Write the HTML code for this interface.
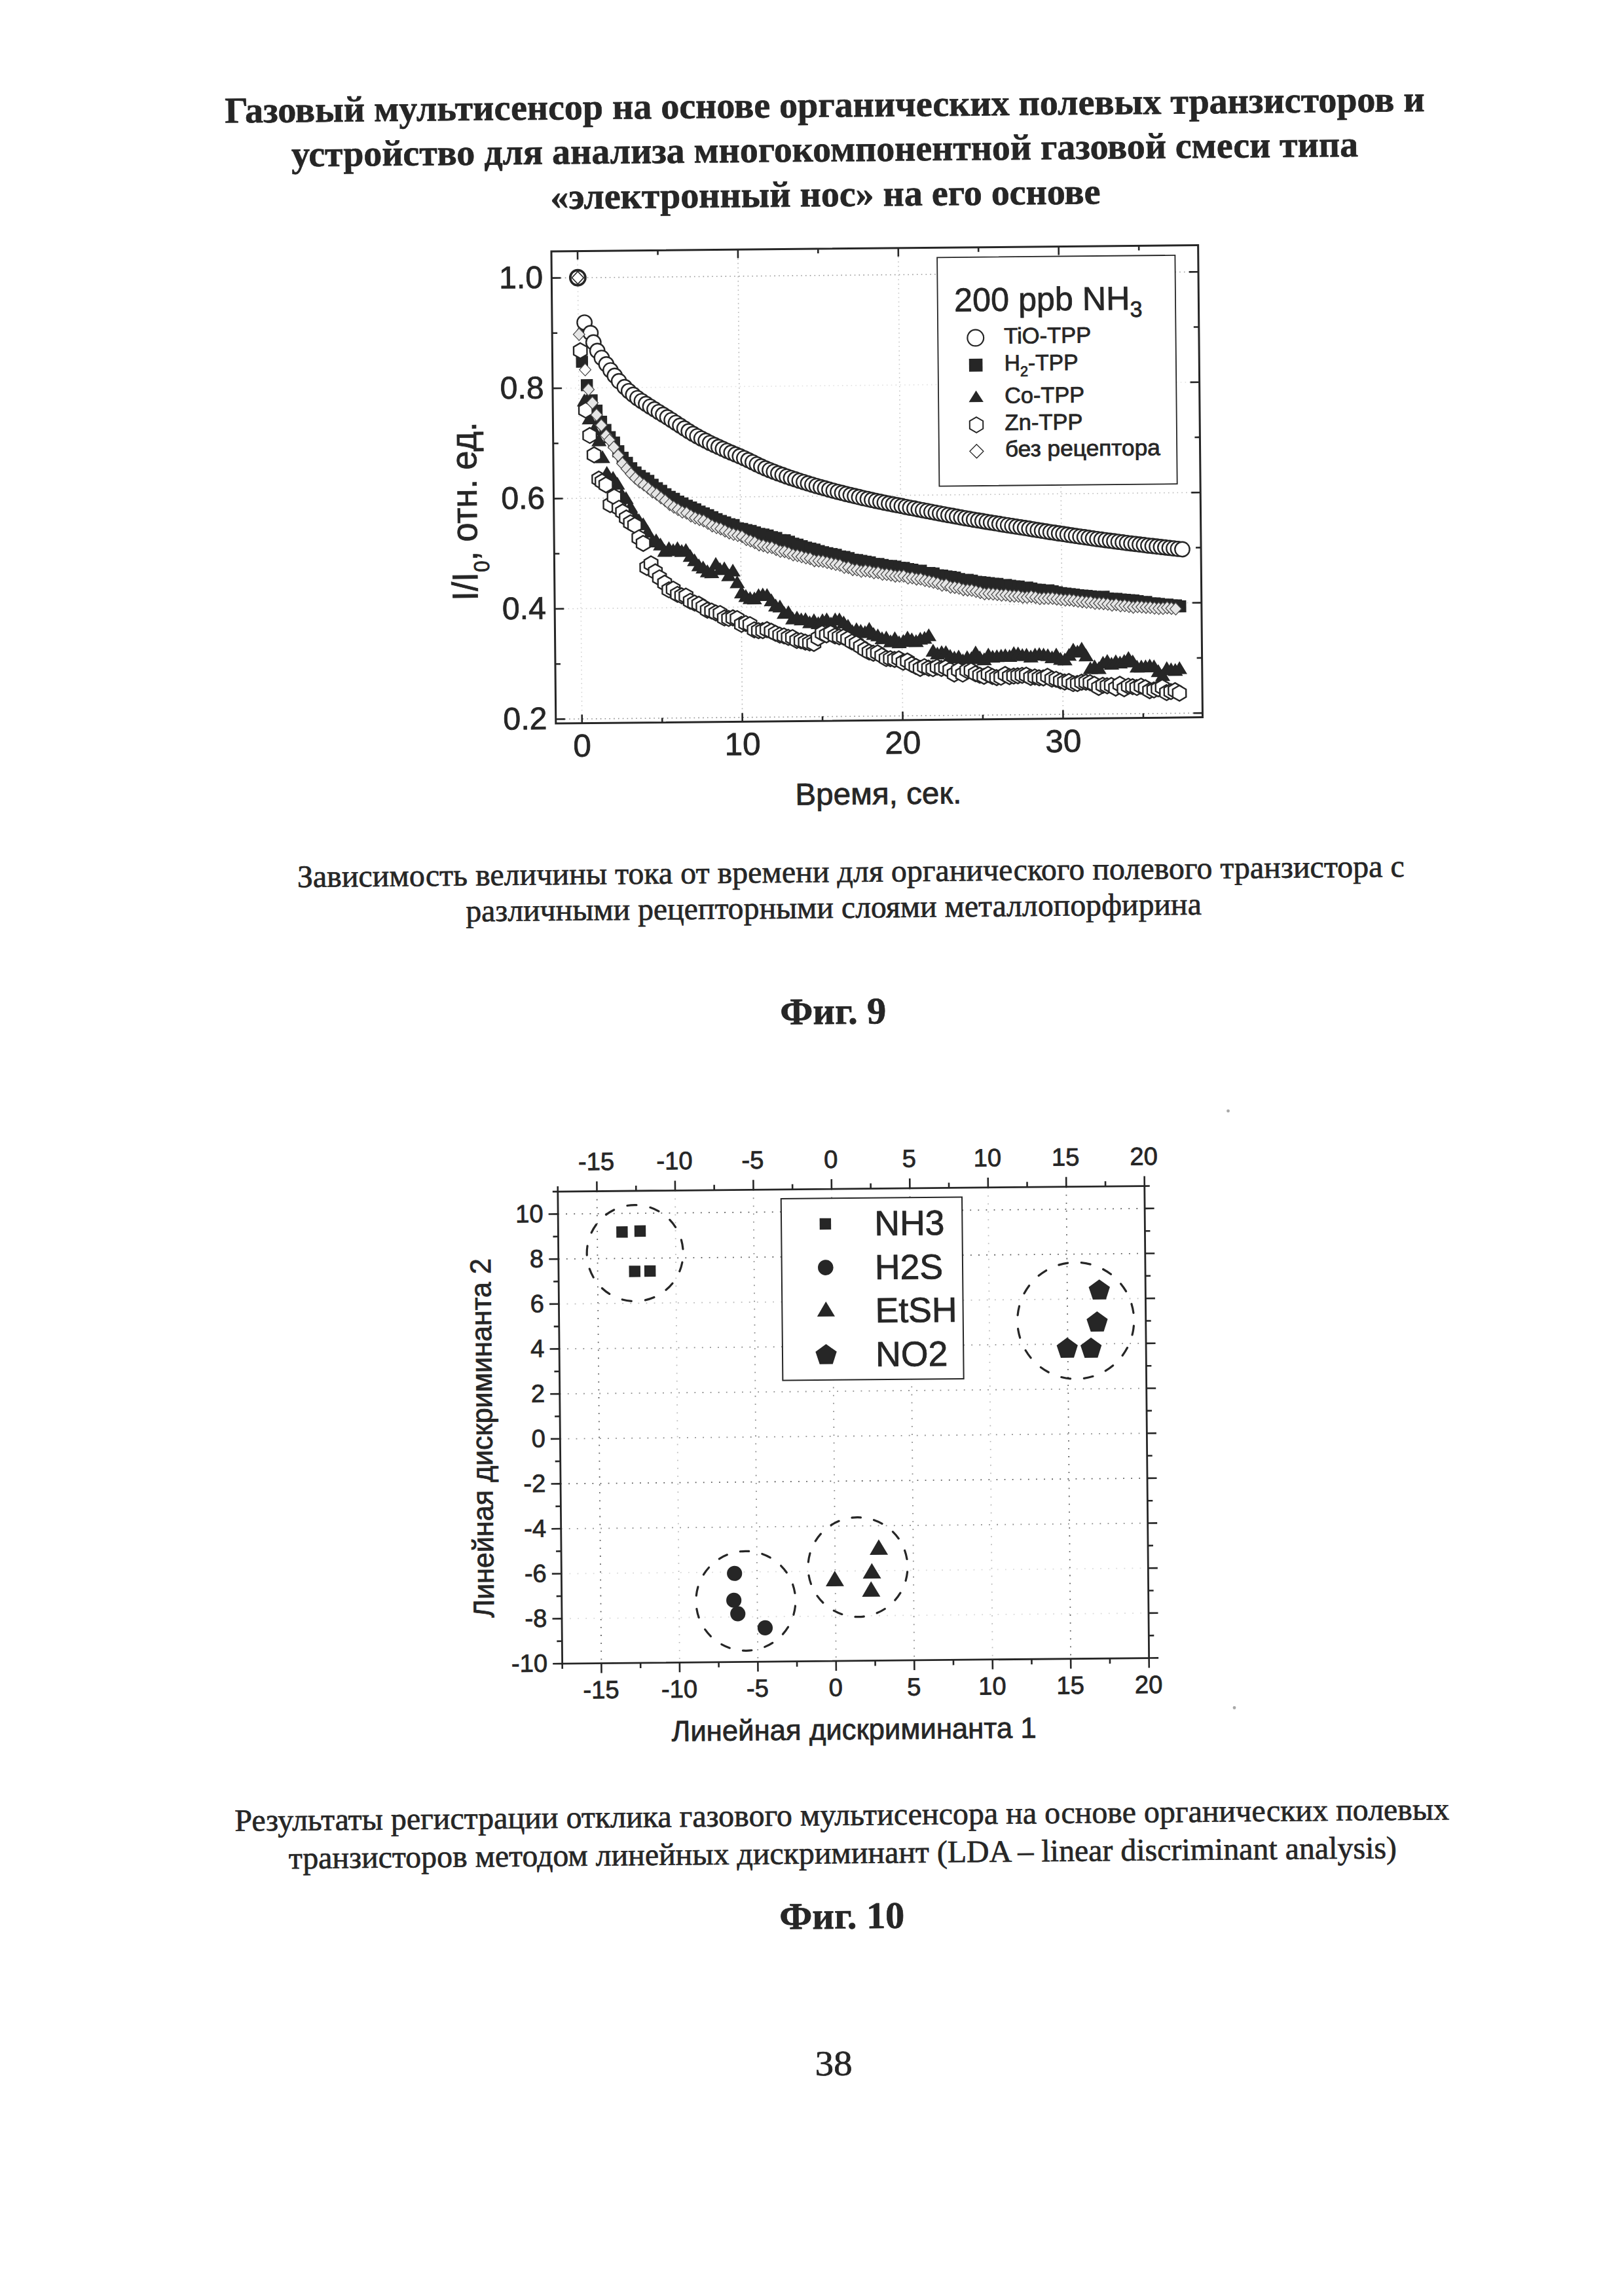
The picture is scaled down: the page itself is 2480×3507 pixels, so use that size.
<!DOCTYPE html>
<html lang="ru">
<head>
<meta charset="utf-8">
<title>Фиг. 9, Фиг. 10</title>
<style>
html,body{margin:0;padding:0;background:#fff;}
body{width:2480px;height:3507px;overflow:hidden;}
svg{display:block;position:absolute;left:0;top:0;}
.s{font-family:"Liberation Sans",sans-serif;fill:#262626;stroke:#262626;stroke-width:0.8px;}
.tb{font-family:"Liberation Serif",serif;font-weight:bold;fill:#262626;stroke:#262626;stroke-width:0.7px;}
.tr{font-family:"Liberation Serif",serif;fill:#262626;stroke:#262626;stroke-width:0.7px;}
.g1{stroke-width:1.6;stroke-dasharray:1.6 5.2;fill:none;}
.g2{stroke-width:1.8;stroke-dasharray:1.8 10.3;fill:none;}
</style>
</head>
<body>
<svg width="2480" height="3507" viewBox="0 0 2480 3507">
<g transform="rotate(-0.5443 1240.0 1753.5)">
<g id="text">
<text x="1274.6" y="179" text-anchor="middle" class="tb" font-size="55.8" textLength="1832.2" lengthAdjust="spacingAndGlyphs">Газовый мультисенсор на основе органических полевых транзисторов и</text>
<text x="1274" y="246.9" text-anchor="middle" class="tb" font-size="55.8" textLength="1628.9" lengthAdjust="spacingAndGlyphs">устройство для анализа многокомпонентной газовой смеси типа</text>
<text x="1274.2" y="315.5" text-anchor="middle" class="tb" font-size="55.8" textLength="840.2" lengthAdjust="spacingAndGlyphs">«электронный нос» на его основе</text>
<text x="1303.2" y="1347.6" text-anchor="middle" class="tr" font-size="47.85" textLength="1690.9" lengthAdjust="spacingAndGlyphs">Зависимость величины тока от времени для органического полевого транзистора с</text>
<text x="1276.5" y="1402.4" text-anchor="middle" class="tr" font-size="47.85" textLength="1123.5" lengthAdjust="spacingAndGlyphs">различными рецепторными слоями металлопорфирина</text>
<text x="1274.3" y="1564.3" text-anchor="middle" class="tb" font-size="57.5" textLength="162" lengthAdjust="spacingAndGlyphs">Фиг. 9</text>
<text x="1276" y="2788.4" text-anchor="middle" class="tr" font-size="47.85" textLength="1854.9" lengthAdjust="spacingAndGlyphs">Результаты регистрации отклика газового мультисенсора на основе органических полевых</text>
<text x="1276.6" y="2846.5" text-anchor="middle" class="tr" font-size="47.85" textLength="1692.2" lengthAdjust="spacingAndGlyphs">транзисторов методом линейных дискриминант (LDA – linear discriminant analysis)</text>
<text x="1274.7" y="2946.1" text-anchor="middle" class="tb" font-size="57.5" textLength="191" lengthAdjust="spacingAndGlyphs">Фиг. 10</text>
<text x="1259.8" y="3170.1" text-anchor="middle" class="tr" font-size="54" textLength="57" lengthAdjust="spacingAndGlyphs">38</text>
</g>
<g id="chart1">
<line x1="895" y1="380.2" x2="895" y2="1101.3" class="g1" stroke="#d4d4d4"/>
<line x1="1139.9" y1="380.2" x2="1139.9" y2="1101.3" class="g1" stroke="#b4b4b4"/>
<line x1="1384.8" y1="380.2" x2="1384.8" y2="1101.3" class="g1" stroke="#c6c6c6"/>
<line x1="1629.7" y1="380.2" x2="1629.7" y2="1101.3" class="g1" stroke="#bcbcbc"/>
<line x1="855" y1="1094.8" x2="1842.7" y2="1094.8" class="g1" stroke="#8e8e8e"/>
<line x1="855" y1="926.3" x2="1842.7" y2="926.3" class="g1" stroke="#cfcfcf"/>
<line x1="855" y1="757.9" x2="1842.7" y2="757.9" class="g1" stroke="#bdbdbd"/>
<line x1="855" y1="589.4" x2="1842.7" y2="589.4" class="g1" stroke="#e0e0e0"/>
<line x1="855" y1="420.9" x2="1842.7" y2="420.9" class="g1" stroke="#9a9a9a"/>
<g fill="#262626"><rect x="891" y="540" width="18.4" height="18.4"/><rect x="898.1" y="575.9" width="18.4" height="18.4"/><rect x="905.2" y="599.3" width="18.4" height="18.4"/><rect x="912.5" y="615.1" width="18.4" height="18.4"/><rect x="919.3" y="632" width="18.4" height="18.4"/><rect x="925.8" y="644.6" width="18.4" height="18.4"/><rect x="932.3" y="655.7" width="18.4" height="18.4"/><rect x="938.8" y="664" width="18.4" height="18.4"/><rect x="945.2" y="677.3" width="18.4" height="18.4"/><rect x="951.7" y="687.4" width="18.4" height="18.4"/><rect x="958.2" y="695.3" width="18.4" height="18.4"/><rect x="964.7" y="703.6" width="18.4" height="18.4"/><rect x="971.2" y="710" width="18.4" height="18.4"/><rect x="977.7" y="715.3" width="18.4" height="18.4"/><rect x="984.1" y="719.3" width="18.4" height="18.4"/><rect x="990.6" y="723.1" width="18.4" height="18.4"/><rect x="997.1" y="729" width="18.4" height="18.4"/><rect x="1003.6" y="734.5" width="18.4" height="18.4"/><rect x="1010.1" y="738.5" width="18.4" height="18.4"/><rect x="1016.6" y="743.7" width="18.4" height="18.4"/><rect x="1023" y="747.7" width="18.4" height="18.4"/><rect x="1029.5" y="750.8" width="18.4" height="18.4"/><rect x="1036" y="755.3" width="18.4" height="18.4"/><rect x="1042.5" y="758.1" width="18.4" height="18.4"/><rect x="1049" y="761.6" width="18.4" height="18.4"/><rect x="1055.4" y="764.3" width="18.4" height="18.4"/><rect x="1061.9" y="767.1" width="18.4" height="18.4"/><rect x="1068.4" y="770.8" width="18.4" height="18.4"/><rect x="1074.9" y="773.5" width="18.4" height="18.4"/><rect x="1081.4" y="776.3" width="18.4" height="18.4"/><rect x="1087.9" y="779.4" width="18.4" height="18.4"/><rect x="1094.3" y="782.5" width="18.4" height="18.4"/><rect x="1100.8" y="785.4" width="18.4" height="18.4"/><rect x="1107.3" y="787.6" width="18.4" height="18.4"/><rect x="1113.8" y="790.4" width="18.4" height="18.4"/><rect x="1120.3" y="791.8" width="18.4" height="18.4"/><rect x="1126.8" y="796.8" width="18.4" height="18.4"/><rect x="1133.2" y="797.8" width="18.4" height="18.4"/><rect x="1139.7" y="799.8" width="18.4" height="18.4"/><rect x="1146.2" y="801.1" width="18.4" height="18.4"/><rect x="1152.7" y="803.3" width="18.4" height="18.4"/><rect x="1159.2" y="805.6" width="18.4" height="18.4"/><rect x="1165.6" y="806.8" width="18.4" height="18.4"/><rect x="1172.1" y="808.3" width="18.4" height="18.4"/><rect x="1178.6" y="810.7" width="18.4" height="18.4"/><rect x="1185.1" y="812.1" width="18.4" height="18.4"/><rect x="1191.6" y="815.5" width="18.4" height="18.4"/><rect x="1198.1" y="815.7" width="18.4" height="18.4"/><rect x="1204.5" y="818" width="18.4" height="18.4"/><rect x="1211" y="821" width="18.4" height="18.4"/><rect x="1217.5" y="822.6" width="18.4" height="18.4"/><rect x="1224" y="825" width="18.4" height="18.4"/><rect x="1230.5" y="827.4" width="18.4" height="18.4"/><rect x="1237" y="828.9" width="18.4" height="18.4"/><rect x="1243.4" y="830.4" width="18.4" height="18.4"/><rect x="1249.9" y="832.8" width="18.4" height="18.4"/><rect x="1256.4" y="834.6" width="18.4" height="18.4"/><rect x="1262.9" y="836.1" width="18.4" height="18.4"/><rect x="1269.4" y="837.5" width="18.4" height="18.4"/><rect x="1275.9" y="838.7" width="18.4" height="18.4"/><rect x="1282.3" y="841.3" width="18.4" height="18.4"/><rect x="1288.8" y="842.2" width="18.4" height="18.4"/><rect x="1295.3" y="843.9" width="18.4" height="18.4"/><rect x="1301.8" y="846.4" width="18.4" height="18.4"/><rect x="1308.3" y="847.1" width="18.4" height="18.4"/><rect x="1314.7" y="848.4" width="18.4" height="18.4"/><rect x="1321.2" y="849.7" width="18.4" height="18.4"/><rect x="1327.7" y="850.8" width="18.4" height="18.4"/><rect x="1334.2" y="853.3" width="18.4" height="18.4"/><rect x="1340.7" y="853.4" width="18.4" height="18.4"/><rect x="1347.2" y="854.9" width="18.4" height="18.4"/><rect x="1353.6" y="856.4" width="18.4" height="18.4"/><rect x="1360.1" y="856.6" width="18.4" height="18.4"/><rect x="1366.6" y="857.6" width="18.4" height="18.4"/><rect x="1373.1" y="859.4" width="18.4" height="18.4"/><rect x="1379.6" y="859.7" width="18.4" height="18.4"/><rect x="1386.1" y="861.5" width="18.4" height="18.4"/><rect x="1392.5" y="862.5" width="18.4" height="18.4"/><rect x="1399" y="864.3" width="18.4" height="18.4"/><rect x="1405.5" y="864.2" width="18.4" height="18.4"/><rect x="1412" y="867.7" width="18.4" height="18.4"/><rect x="1418.5" y="867.8" width="18.4" height="18.4"/><rect x="1424.9" y="868.7" width="18.4" height="18.4"/><rect x="1431.4" y="871.5" width="18.4" height="18.4"/><rect x="1437.9" y="871.9" width="18.4" height="18.4"/><rect x="1444.4" y="873.3" width="18.4" height="18.4"/><rect x="1450.9" y="874.2" width="18.4" height="18.4"/><rect x="1457.4" y="875.3" width="18.4" height="18.4"/><rect x="1463.8" y="877.4" width="18.4" height="18.4"/><rect x="1470.3" y="879.1" width="18.4" height="18.4"/><rect x="1476.8" y="878.9" width="18.4" height="18.4"/><rect x="1483.3" y="880.1" width="18.4" height="18.4"/><rect x="1489.8" y="882" width="18.4" height="18.4"/><rect x="1496.3" y="882.6" width="18.4" height="18.4"/><rect x="1502.7" y="883.5" width="18.4" height="18.4"/><rect x="1509.2" y="884.2" width="18.4" height="18.4"/><rect x="1515.7" y="885.3" width="18.4" height="18.4"/><rect x="1522.2" y="885.5" width="18.4" height="18.4"/><rect x="1528.7" y="887.9" width="18.4" height="18.4"/><rect x="1535.2" y="887.3" width="18.4" height="18.4"/><rect x="1541.6" y="888.5" width="18.4" height="18.4"/><rect x="1548.1" y="889.6" width="18.4" height="18.4"/><rect x="1554.6" y="889.8" width="18.4" height="18.4"/><rect x="1561.1" y="892.5" width="18.4" height="18.4"/><rect x="1567.6" y="891.6" width="18.4" height="18.4"/><rect x="1574" y="893" width="18.4" height="18.4"/><rect x="1580.5" y="894.8" width="18.4" height="18.4"/><rect x="1587" y="895.1" width="18.4" height="18.4"/><rect x="1593.5" y="896.5" width="18.4" height="18.4"/><rect x="1600" y="896.1" width="18.4" height="18.4"/><rect x="1606.5" y="897.5" width="18.4" height="18.4"/><rect x="1612.9" y="899.1" width="18.4" height="18.4"/><rect x="1619.4" y="900.6" width="18.4" height="18.4"/><rect x="1625.9" y="901.4" width="18.4" height="18.4"/><rect x="1632.4" y="902.1" width="18.4" height="18.4"/><rect x="1638.9" y="903" width="18.4" height="18.4"/><rect x="1645.4" y="904" width="18.4" height="18.4"/><rect x="1651.8" y="904.6" width="18.4" height="18.4"/><rect x="1658.3" y="905.2" width="18.4" height="18.4"/><rect x="1664.8" y="906" width="18.4" height="18.4"/><rect x="1671.3" y="906.8" width="18.4" height="18.4"/><rect x="1677.8" y="907.7" width="18.4" height="18.4"/><rect x="1684.2" y="906.7" width="18.4" height="18.4"/><rect x="1690.7" y="909.4" width="18.4" height="18.4"/><rect x="1697.2" y="910" width="18.4" height="18.4"/><rect x="1703.7" y="910" width="18.4" height="18.4"/><rect x="1710.2" y="911.2" width="18.4" height="18.4"/><rect x="1716.7" y="911.6" width="18.4" height="18.4"/><rect x="1723.1" y="912.2" width="18.4" height="18.4"/><rect x="1729.6" y="912.7" width="18.4" height="18.4"/><rect x="1736.1" y="913.8" width="18.4" height="18.4"/><rect x="1742.6" y="915.5" width="18.4" height="18.4"/><rect x="1749.1" y="915.2" width="18.4" height="18.4"/><rect x="1755.6" y="917.5" width="18.4" height="18.4"/><rect x="1762" y="917.5" width="18.4" height="18.4"/><rect x="1768.5" y="918.5" width="18.4" height="18.4"/><rect x="1775" y="919.6" width="18.4" height="18.4"/><rect x="1781.5" y="919.6" width="18.4" height="18.4"/><rect x="1788" y="920.8" width="18.4" height="18.4"/><rect x="1794.5" y="921" width="18.4" height="18.4"/><rect x="1800.9" y="922.4" width="18.4" height="18.4"/></g>
<g fill="#262626"><path d="M900.7 487.7l11.6 19.6h-23.2z"/><path d="M903.3 597.7l11.6 19.6h-23.2z"/><path d="M910.5 625.4l11.6 19.6h-23.2z"/><path d="M917.4 642.4l11.6 19.6h-23.2z"/><path d="M924.9 658.9l11.6 19.6h-23.2z"/><path d="M930.2 684.8l11.6 19.6h-23.2z"/><path d="M936.6 708.9l11.6 19.6h-23.2z"/><path d="M946 716.5l11.6 19.6h-23.2z"/><path d="M952.5 725.5l11.6 19.6h-23.2z"/><path d="M959 741.5l11.6 19.6h-23.2z"/><path d="M965.5 747.7l11.6 19.6h-23.2z"/><path d="M972 760.9l11.6 19.6h-23.2z"/><path d="M978.5 774.3l11.6 19.6h-23.2z"/><path d="M984.9 781.5l11.6 19.6h-23.2z"/><path d="M991.4 787.8l11.6 19.6h-23.2z"/><path d="M997.9 799.2l11.6 19.6h-23.2z"/><path d="M1004.4 814.3l11.6 19.6h-23.2z"/><path d="M1010.9 812.6l11.6 19.6h-23.2z"/><path d="M1017.4 819l11.6 19.6h-23.2z"/><path d="M1023.8 828.8l11.6 19.6h-23.2z"/><path d="M1030.3 824.8l11.6 19.6h-23.2z"/><path d="M1036.8 827.9l11.6 19.6h-23.2z"/><path d="M1043.3 824.9l11.6 19.6h-23.2z"/><path d="M1049.8 829.1l11.6 19.6h-23.2z"/><path d="M1056.2 827.8l11.6 19.6h-23.2z"/><path d="M1062.7 836.8l11.6 19.6h-23.2z"/><path d="M1069.2 843.5l11.6 19.6h-23.2z"/><path d="M1075.7 851.3l11.6 19.6h-23.2z"/><path d="M1082.2 854.8l11.6 19.6h-23.2z"/><path d="M1088.7 860.6l11.6 19.6h-23.2z"/><path d="M1095.1 862l11.6 19.6h-23.2z"/><path d="M1101.6 849.4l11.6 19.6h-23.2z"/><path d="M1108.1 857.4l11.6 19.6h-23.2z"/><path d="M1114.6 856.2l11.6 19.6h-23.2z"/><path d="M1121.1 866.8l11.6 19.6h-23.2z"/><path d="M1127.6 859.8l11.6 19.6h-23.2z"/><path d="M1134 877.7l11.6 19.6h-23.2z"/><path d="M1140.5 893.3l11.6 19.6h-23.2z"/><path d="M1147 898.8l11.6 19.6h-23.2z"/><path d="M1153.5 902.1l11.6 19.6h-23.2z"/><path d="M1160 902.8l11.6 19.6h-23.2z"/><path d="M1166.5 897.8l11.6 19.6h-23.2z"/><path d="M1172.9 896.7l11.6 19.6h-23.2z"/><path d="M1179.4 897.6l11.6 19.6h-23.2z"/><path d="M1185.9 905.7l11.6 19.6h-23.2z"/><path d="M1192.4 913.8l11.6 19.6h-23.2z"/><path d="M1198.9 915.3l11.6 19.6h-23.2z"/><path d="M1205.3 925.1l11.6 19.6h-23.2z"/><path d="M1211.8 924.2l11.6 19.6h-23.2z"/><path d="M1218.3 933.7l11.6 19.6h-23.2z"/><path d="M1224.8 932.5l11.6 19.6h-23.2z"/><path d="M1231.3 935.5l11.6 19.6h-23.2z"/><path d="M1237.8 935.2l11.6 19.6h-23.2z"/><path d="M1244.2 939.9l11.6 19.6h-23.2z"/><path d="M1250.7 936.8l11.6 19.6h-23.2z"/><path d="M1257.2 941.5l11.6 19.6h-23.2z"/><path d="M1263.7 937l11.6 19.6h-23.2z"/><path d="M1270.2 935.7l11.6 19.6h-23.2z"/><path d="M1276.7 942l11.6 19.6h-23.2z"/><path d="M1283.1 935.9l11.6 19.6h-23.2z"/><path d="M1289.6 935.9l11.6 19.6h-23.2z"/><path d="M1296.1 940.7l11.6 19.6h-23.2z"/><path d="M1302.6 945.8l11.6 19.6h-23.2z"/><path d="M1309.1 954.2l11.6 19.6h-23.2z"/><path d="M1315.5 951.2l11.6 19.6h-23.2z"/><path d="M1322 953.8l11.6 19.6h-23.2z"/><path d="M1328.5 955.9l11.6 19.6h-23.2z"/><path d="M1335 950.9l11.6 19.6h-23.2z"/><path d="M1341.5 958.6l11.6 19.6h-23.2z"/><path d="M1348 960.9l11.6 19.6h-23.2z"/><path d="M1354.4 965.4l11.6 19.6h-23.2z"/><path d="M1360.9 964.4l11.6 19.6h-23.2z"/><path d="M1367.4 970.2l11.6 19.6h-23.2z"/><path d="M1373.9 965.6l11.6 19.6h-23.2z"/><path d="M1380.4 971.9l11.6 19.6h-23.2z"/><path d="M1386.9 969.8l11.6 19.6h-23.2z"/><path d="M1393.3 964.7l11.6 19.6h-23.2z"/><path d="M1399.8 967.4l11.6 19.6h-23.2z"/><path d="M1406.3 970.4l11.6 19.6h-23.2z"/><path d="M1412.8 966.6l11.6 19.6h-23.2z"/><path d="M1419.3 965.4l11.6 19.6h-23.2z"/><path d="M1425.8 961.4l11.6 19.6h-23.2z"/><path d="M1432.2 985l11.6 19.6h-23.2z"/><path d="M1438.7 989.5l11.6 19.6h-23.2z"/><path d="M1445.2 987.3l11.6 19.6h-23.2z"/><path d="M1451.7 987.6l11.6 19.6h-23.2z"/><path d="M1458.2 993.2l11.6 19.6h-23.2z"/><path d="M1464.6 995.8l11.6 19.6h-23.2z"/><path d="M1471.1 994.5l11.6 19.6h-23.2z"/><path d="M1477.6 1000.3l11.6 19.6h-23.2z"/><path d="M1484.1 995.5l11.6 19.6h-23.2z"/><path d="M1490.6 997.2l11.6 19.6h-23.2z"/><path d="M1497.1 988.3l11.6 19.6h-23.2z"/><path d="M1503.5 996l11.6 19.6h-23.2z"/><path d="M1510 999l11.6 19.6h-23.2z"/><path d="M1516.5 991.9l11.6 19.6h-23.2z"/><path d="M1523 995.1l11.6 19.6h-23.2z"/><path d="M1529.5 994.5l11.6 19.6h-23.2z"/><path d="M1536 993.7l11.6 19.6h-23.2z"/><path d="M1542.4 993.1l11.6 19.6h-23.2z"/><path d="M1548.9 994.3l11.6 19.6h-23.2z"/><path d="M1555.4 989.9l11.6 19.6h-23.2z"/><path d="M1561.9 990.6l11.6 19.6h-23.2z"/><path d="M1568.4 993.1l11.6 19.6h-23.2z"/><path d="M1574.8 992.7l11.6 19.6h-23.2z"/><path d="M1581.3 995.5l11.6 19.6h-23.2z"/><path d="M1587.8 992.5l11.6 19.6h-23.2z"/><path d="M1594.3 991.8l11.6 19.6h-23.2z"/><path d="M1600.8 992.6l11.6 19.6h-23.2z"/><path d="M1607.3 993.6l11.6 19.6h-23.2z"/><path d="M1613.7 996.9l11.6 19.6h-23.2z"/><path d="M1620.2 992.9l11.6 19.6h-23.2z"/><path d="M1626.7 999.4l11.6 19.6h-23.2z"/><path d="M1633.2 1000.4l11.6 19.6h-23.2z"/><path d="M1639.7 993.4l11.6 19.6h-23.2z"/><path d="M1646.2 985.6l11.6 19.6h-23.2z"/><path d="M1652.6 988.7l11.6 19.6h-23.2z"/><path d="M1659.1 984.1l11.6 19.6h-23.2z"/><path d="M1665.6 994.6l11.6 19.6h-23.2z"/><path d="M1672.1 1014.2l11.6 19.6h-23.2z"/><path d="M1678.6 1011.5l11.6 19.6h-23.2z"/><path d="M1685.1 1014.2l11.6 19.6h-23.2z"/><path d="M1691.5 1006l11.6 19.6h-23.2z"/><path d="M1698 1003.2l11.6 19.6h-23.2z"/><path d="M1704.5 1007.7l11.6 19.6h-23.2z"/><path d="M1711 1004l11.6 19.6h-23.2z"/><path d="M1717.5 1005.9l11.6 19.6h-23.2z"/><path d="M1723.9 1003.5l11.6 19.6h-23.2z"/><path d="M1730.4 999l11.6 19.6h-23.2z"/><path d="M1736.9 1004.5l11.6 19.6h-23.2z"/><path d="M1743.4 1012.4l11.6 19.6h-23.2z"/><path d="M1749.9 1012.3l11.6 19.6h-23.2z"/><path d="M1756.4 1012.2l11.6 19.6h-23.2z"/><path d="M1762.8 1010.9l11.6 19.6h-23.2z"/><path d="M1769.3 1012.2l11.6 19.6h-23.2z"/><path d="M1775.8 1019.6l11.6 19.6h-23.2z"/><path d="M1782.3 1025.9l11.6 19.6h-23.2z"/><path d="M1788.8 1015.3l11.6 19.6h-23.2z"/><path d="M1795.3 1017.1l11.6 19.6h-23.2z"/><path d="M1801.7 1018l11.6 19.6h-23.2z"/><path d="M1808.2 1015.4l11.6 19.6h-23.2z"/></g>
<g fill="#fff" stroke="#262626" stroke-width="2.4"><circle cx="904.6" cy="489.3" r="11.2"/><circle cx="913.7" cy="505.5" r="11.2"/><circle cx="918" cy="519.9" r="11.2"/><circle cx="923.8" cy="532.9" r="11.2"/><circle cx="930.4" cy="543.6" r="11.2"/><circle cx="937.3" cy="553.5" r="11.2"/><circle cx="943.7" cy="562.7" r="11.2"/><circle cx="950" cy="571.1" r="11.2"/><circle cx="956.4" cy="579.5" r="11.2"/><circle cx="964.9" cy="588.5" r="11.2"/><circle cx="971.3" cy="594.7" r="11.2"/><circle cx="977.8" cy="600.4" r="11.2"/><circle cx="984.3" cy="605.6" r="11.2"/><circle cx="990.8" cy="610.2" r="11.2"/><circle cx="997.3" cy="614.6" r="11.2"/><circle cx="1003.7" cy="618.8" r="11.2"/><circle cx="1010.2" cy="623" r="11.2"/><circle cx="1016.7" cy="627.2" r="11.2"/><circle cx="1023.2" cy="631.3" r="11.2"/><circle cx="1029.7" cy="635.4" r="11.2"/><circle cx="1036.2" cy="639.6" r="11.2"/><circle cx="1042.6" cy="643.9" r="11.2"/><circle cx="1049.1" cy="648.3" r="11.2"/><circle cx="1055.6" cy="652.6" r="11.2"/><circle cx="1062.1" cy="656.9" r="11.2"/><circle cx="1068.6" cy="661" r="11.2"/><circle cx="1075.1" cy="664.7" r="11.2"/><circle cx="1081.5" cy="668.3" r="11.2"/><circle cx="1088" cy="671.7" r="11.2"/><circle cx="1094.5" cy="675.1" r="11.2"/><circle cx="1101" cy="678.3" r="11.2"/><circle cx="1107.5" cy="681.4" r="11.2"/><circle cx="1114" cy="684.5" r="11.2"/><circle cx="1120.4" cy="687.4" r="11.2"/><circle cx="1126.9" cy="690.3" r="11.2"/><circle cx="1133.4" cy="693.1" r="11.2"/><circle cx="1139.9" cy="696" r="11.2"/><circle cx="1146.4" cy="698.9" r="11.2"/><circle cx="1152.8" cy="702.1" r="11.2"/><circle cx="1159.3" cy="705.3" r="11.2"/><circle cx="1165.8" cy="708.6" r="11.2"/><circle cx="1172.3" cy="711.8" r="11.2"/><circle cx="1178.8" cy="714.8" r="11.2"/><circle cx="1185.3" cy="717.5" r="11.2"/><circle cx="1191.7" cy="720.1" r="11.2"/><circle cx="1198.2" cy="722.7" r="11.2"/><circle cx="1204.7" cy="725.1" r="11.2"/><circle cx="1211.2" cy="727.5" r="11.2"/><circle cx="1217.7" cy="729.8" r="11.2"/><circle cx="1224.2" cy="732" r="11.2"/><circle cx="1230.6" cy="734.2" r="11.2"/><circle cx="1237.1" cy="736.3" r="11.2"/><circle cx="1243.6" cy="738.4" r="11.2"/><circle cx="1250.1" cy="740.4" r="11.2"/><circle cx="1256.6" cy="742.4" r="11.2"/><circle cx="1263" cy="744.3" r="11.2"/><circle cx="1269.5" cy="746.2" r="11.2"/><circle cx="1276" cy="748.1" r="11.2"/><circle cx="1282.5" cy="749.9" r="11.2"/><circle cx="1289" cy="751.7" r="11.2"/><circle cx="1295.5" cy="753.4" r="11.2"/><circle cx="1301.9" cy="755.1" r="11.2"/><circle cx="1308.4" cy="756.8" r="11.2"/><circle cx="1314.9" cy="758.4" r="11.2"/><circle cx="1321.4" cy="760" r="11.2"/><circle cx="1327.9" cy="761.6" r="11.2"/><circle cx="1334.4" cy="763.1" r="11.2"/><circle cx="1340.8" cy="764.6" r="11.2"/><circle cx="1347.3" cy="766.1" r="11.2"/><circle cx="1353.8" cy="767.5" r="11.2"/><circle cx="1360.3" cy="768.9" r="11.2"/><circle cx="1366.8" cy="770.3" r="11.2"/><circle cx="1373.3" cy="771.7" r="11.2"/><circle cx="1379.7" cy="773" r="11.2"/><circle cx="1386.2" cy="774.3" r="11.2"/><circle cx="1392.7" cy="775.7" r="11.2"/><circle cx="1399.2" cy="777" r="11.2"/><circle cx="1405.7" cy="778.3" r="11.2"/><circle cx="1412.1" cy="779.7" r="11.2"/><circle cx="1418.6" cy="781" r="11.2"/><circle cx="1425.1" cy="782.3" r="11.2"/><circle cx="1431.6" cy="783.6" r="11.2"/><circle cx="1438.1" cy="784.9" r="11.2"/><circle cx="1444.6" cy="786.2" r="11.2"/><circle cx="1451" cy="787.5" r="11.2"/><circle cx="1457.5" cy="788.8" r="11.2"/><circle cx="1464" cy="790.1" r="11.2"/><circle cx="1470.5" cy="791.3" r="11.2"/><circle cx="1477" cy="792.6" r="11.2"/><circle cx="1483.5" cy="793.8" r="11.2"/><circle cx="1489.9" cy="795" r="11.2"/><circle cx="1496.4" cy="796.2" r="11.2"/><circle cx="1502.9" cy="797.4" r="11.2"/><circle cx="1509.4" cy="798.5" r="11.2"/><circle cx="1515.9" cy="799.7" r="11.2"/><circle cx="1522.3" cy="800.8" r="11.2"/><circle cx="1528.8" cy="801.9" r="11.2"/><circle cx="1535.3" cy="803" r="11.2"/><circle cx="1541.8" cy="804.1" r="11.2"/><circle cx="1548.3" cy="805.2" r="11.2"/><circle cx="1554.8" cy="806.3" r="11.2"/><circle cx="1561.2" cy="807.4" r="11.2"/><circle cx="1567.7" cy="808.5" r="11.2"/><circle cx="1574.2" cy="809.6" r="11.2"/><circle cx="1580.7" cy="810.7" r="11.2"/><circle cx="1587.2" cy="811.8" r="11.2"/><circle cx="1593.7" cy="813" r="11.2"/><circle cx="1600.1" cy="814.1" r="11.2"/><circle cx="1606.6" cy="815.2" r="11.2"/><circle cx="1613.1" cy="816.3" r="11.2"/><circle cx="1619.6" cy="817.3" r="11.2"/><circle cx="1626.1" cy="818.4" r="11.2"/><circle cx="1632.6" cy="819.4" r="11.2"/><circle cx="1639" cy="820.5" r="11.2"/><circle cx="1645.5" cy="821.5" r="11.2"/><circle cx="1652" cy="822.5" r="11.2"/><circle cx="1658.5" cy="823.5" r="11.2"/><circle cx="1665" cy="824.5" r="11.2"/><circle cx="1671.4" cy="825.5" r="11.2"/><circle cx="1677.9" cy="826.5" r="11.2"/><circle cx="1684.4" cy="827.5" r="11.2"/><circle cx="1690.9" cy="828.4" r="11.2"/><circle cx="1697.4" cy="829.4" r="11.2"/><circle cx="1703.9" cy="830.3" r="11.2"/><circle cx="1710.3" cy="831.2" r="11.2"/><circle cx="1716.8" cy="832.1" r="11.2"/><circle cx="1723.3" cy="833" r="11.2"/><circle cx="1729.8" cy="833.9" r="11.2"/><circle cx="1736.3" cy="834.8" r="11.2"/><circle cx="1742.8" cy="835.6" r="11.2"/><circle cx="1749.2" cy="836.5" r="11.2"/><circle cx="1755.7" cy="837.3" r="11.2"/><circle cx="1762.2" cy="838.2" r="11.2"/><circle cx="1768.7" cy="839" r="11.2"/><circle cx="1775.2" cy="839.8" r="11.2"/><circle cx="1781.6" cy="840.6" r="11.2"/><circle cx="1788.1" cy="841.4" r="11.2"/><circle cx="1794.6" cy="842.2" r="11.2"/><circle cx="1801.1" cy="842.9" r="11.2"/><circle cx="1807.6" cy="843.7" r="11.2"/><circle cx="1814.1" cy="844.4" r="11.2"/></g>
<g fill="#fff" stroke="#262626" stroke-width="2.4"><path d="M897.8 520.7l10.2 5.9v11.8l-10.2 5.9l-10.2 -5.9v-11.8z"/><path d="M905 611.4l10.2 5.9v11.8l-10.2 5.9l-10.2 -5.9v-11.8z"/><path d="M911 650.2l10.2 5.9v11.8l-10.2 5.9l-10.2 -5.9v-11.8z"/><path d="M917.3 679.8l10.2 5.9v11.8l-10.2 5.9l-10.2 -5.9v-11.8z"/><path d="M924.3 716.9l10.2 5.9v11.8l-10.2 5.9l-10.2 -5.9v-11.8z"/><path d="M929.1 720.9l10.2 5.9v11.8l-10.2 5.9l-10.2 -5.9v-11.8z"/><path d="M934.9 725.7l10.2 5.9v11.8l-10.2 5.9l-10.2 -5.9v-11.8z"/><path d="M941.1 756.1l10.2 5.9v11.8l-10.2 5.9l-10.2 -5.9v-11.8z"/><path d="M947.4 744.2l10.2 5.9v11.8l-10.2 5.9l-10.2 -5.9v-11.8z"/><path d="M954.6 761.8l10.2 5.9v11.8l-10.2 5.9l-10.2 -5.9v-11.8z"/><path d="M960 767.5l10.2 5.9v11.8l-10.2 5.9l-10.2 -5.9v-11.8z"/><path d="M965.6 776.7l10.2 5.9v11.8l-10.2 5.9l-10.2 -5.9v-11.8z"/><path d="M971.9 784.1l10.2 5.9v11.8l-10.2 5.9l-10.2 -5.9v-11.8z"/><path d="M978.3 787.9l10.2 5.9v11.8l-10.2 5.9l-10.2 -5.9v-11.8z"/><path d="M984.6 807.3l10.2 5.9v11.8l-10.2 5.9l-10.2 -5.9v-11.8z"/><path d="M991 815.8l10.2 5.9v11.8l-10.2 5.9l-10.2 -5.9v-11.8z"/><path d="M996.2 852.7l10.2 5.9v11.8l-10.2 5.9l-10.2 -5.9v-11.8z"/><path d="M1002.7 847.2l10.2 5.9v11.8l-10.2 5.9l-10.2 -5.9v-11.8z"/><path d="M1009.1 859.4l10.2 5.9v11.8l-10.2 5.9l-10.2 -5.9v-11.8z"/><path d="M1015.4 868.6l10.2 5.9v11.8l-10.2 5.9l-10.2 -5.9v-11.8z"/><path d="M1023.2 876.8l10.2 5.9v11.8l-10.2 5.9l-10.2 -5.9v-11.8z"/><path d="M1029.7 887.1l10.2 5.9v11.8l-10.2 5.9l-10.2 -5.9v-11.8z"/><path d="M1036.2 886.1l10.2 5.9v11.8l-10.2 5.9l-10.2 -5.9v-11.8z"/><path d="M1042.6 894.1l10.2 5.9v11.8l-10.2 5.9l-10.2 -5.9v-11.8z"/><path d="M1049.1 896.4l10.2 5.9v11.8l-10.2 5.9l-10.2 -5.9v-11.8z"/><path d="M1055.6 896.9l10.2 5.9v11.8l-10.2 5.9l-10.2 -5.9v-11.8z"/><path d="M1062.1 904.8l10.2 5.9v11.8l-10.2 5.9l-10.2 -5.9v-11.8z"/><path d="M1068.6 907.6l10.2 5.9v11.8l-10.2 5.9l-10.2 -5.9v-11.8z"/><path d="M1075.1 909.5l10.2 5.9v11.8l-10.2 5.9l-10.2 -5.9v-11.8z"/><path d="M1081.5 913.8l10.2 5.9v11.8l-10.2 5.9l-10.2 -5.9v-11.8z"/><path d="M1088 918.7l10.2 5.9v11.8l-10.2 5.9l-10.2 -5.9v-11.8z"/><path d="M1094.5 920.1l10.2 5.9v11.8l-10.2 5.9l-10.2 -5.9v-11.8z"/><path d="M1101 923.1l10.2 5.9v11.8l-10.2 5.9l-10.2 -5.9v-11.8z"/><path d="M1107.5 924l10.2 5.9v11.8l-10.2 5.9l-10.2 -5.9v-11.8z"/><path d="M1113.9 930.9l10.2 5.9v11.8l-10.2 5.9l-10.2 -5.9v-11.8z"/><path d="M1120.4 931.7l10.2 5.9v11.8l-10.2 5.9l-10.2 -5.9v-11.8z"/><path d="M1126.9 930.8l10.2 5.9v11.8l-10.2 5.9l-10.2 -5.9v-11.8z"/><path d="M1133.4 932l10.2 5.9v11.8l-10.2 5.9l-10.2 -5.9v-11.8z"/><path d="M1139.9 940.9l10.2 5.9v11.8l-10.2 5.9l-10.2 -5.9v-11.8z"/><path d="M1146.4 939.6l10.2 5.9v11.8l-10.2 5.9l-10.2 -5.9v-11.8z"/><path d="M1152.8 941.4l10.2 5.9v11.8l-10.2 5.9l-10.2 -5.9v-11.8z"/><path d="M1159.3 949.5l10.2 5.9v11.8l-10.2 5.9l-10.2 -5.9v-11.8z"/><path d="M1165.8 950.8l10.2 5.9v11.8l-10.2 5.9l-10.2 -5.9v-11.8z"/><path d="M1172.3 950.8l10.2 5.9v11.8l-10.2 5.9l-10.2 -5.9v-11.8z"/><path d="M1178.8 949.3l10.2 5.9v11.8l-10.2 5.9l-10.2 -5.9v-11.8z"/><path d="M1185.3 951.8l10.2 5.9v11.8l-10.2 5.9l-10.2 -5.9v-11.8z"/><path d="M1191.7 955.1l10.2 5.9v11.8l-10.2 5.9l-10.2 -5.9v-11.8z"/><path d="M1198.2 957.9l10.2 5.9v11.8l-10.2 5.9l-10.2 -5.9v-11.8z"/><path d="M1204.7 959.2l10.2 5.9v11.8l-10.2 5.9l-10.2 -5.9v-11.8z"/><path d="M1211.2 961.4l10.2 5.9v11.8l-10.2 5.9l-10.2 -5.9v-11.8z"/><path d="M1217.7 961.8l10.2 5.9v11.8l-10.2 5.9l-10.2 -5.9v-11.8z"/><path d="M1224.1 966.3l10.2 5.9v11.8l-10.2 5.9l-10.2 -5.9v-11.8z"/><path d="M1230.6 966.9l10.2 5.9v11.8l-10.2 5.9l-10.2 -5.9v-11.8z"/><path d="M1237.1 968.9l10.2 5.9v11.8l-10.2 5.9l-10.2 -5.9v-11.8z"/><path d="M1243.6 970.3l10.2 5.9v11.8l-10.2 5.9l-10.2 -5.9v-11.8z"/><path d="M1250.1 971.1l10.2 5.9v11.8l-10.2 5.9l-10.2 -5.9v-11.8z"/><path d="M1256.6 962.8l10.2 5.9v11.8l-10.2 5.9l-10.2 -5.9v-11.8z"/><path d="M1263 955.5l10.2 5.9v11.8l-10.2 5.9l-10.2 -5.9v-11.8z"/><path d="M1269.5 958.3l10.2 5.9v11.8l-10.2 5.9l-10.2 -5.9v-11.8z"/><path d="M1276 955.4l10.2 5.9v11.8l-10.2 5.9l-10.2 -5.9v-11.8z"/><path d="M1282.5 960l10.2 5.9v11.8l-10.2 5.9l-10.2 -5.9v-11.8z"/><path d="M1289 961.5l10.2 5.9v11.8l-10.2 5.9l-10.2 -5.9v-11.8z"/><path d="M1295.5 961.7l10.2 5.9v11.8l-10.2 5.9l-10.2 -5.9v-11.8z"/><path d="M1301.9 964.7l10.2 5.9v11.8l-10.2 5.9l-10.2 -5.9v-11.8z"/><path d="M1308.4 969.4l10.2 5.9v11.8l-10.2 5.9l-10.2 -5.9v-11.8z"/><path d="M1314.9 971.9l10.2 5.9v11.8l-10.2 5.9l-10.2 -5.9v-11.8z"/><path d="M1321.4 976.7l10.2 5.9v11.8l-10.2 5.9l-10.2 -5.9v-11.8z"/><path d="M1327.9 981.2l10.2 5.9v11.8l-10.2 5.9l-10.2 -5.9v-11.8z"/><path d="M1334.4 985l10.2 5.9v11.8l-10.2 5.9l-10.2 -5.9v-11.8z"/><path d="M1340.8 986.9l10.2 5.9v11.8l-10.2 5.9l-10.2 -5.9v-11.8z"/><path d="M1347.3 986.4l10.2 5.9v11.8l-10.2 5.9l-10.2 -5.9v-11.8z"/><path d="M1353.8 990.9l10.2 5.9v11.8l-10.2 5.9l-10.2 -5.9v-11.8z"/><path d="M1360.3 995.2l10.2 5.9v11.8l-10.2 5.9l-10.2 -5.9v-11.8z"/><path d="M1366.8 995.5l10.2 5.9v11.8l-10.2 5.9l-10.2 -5.9v-11.8z"/><path d="M1373.2 996.7l10.2 5.9v11.8l-10.2 5.9l-10.2 -5.9v-11.8z"/><path d="M1379.7 995.9l10.2 5.9v11.8l-10.2 5.9l-10.2 -5.9v-11.8z"/><path d="M1386.2 1001l10.2 5.9v11.8l-10.2 5.9l-10.2 -5.9v-11.8z"/><path d="M1392.7 999.3l10.2 5.9v11.8l-10.2 5.9l-10.2 -5.9v-11.8z"/><path d="M1399.2 1004.6l10.2 5.9v11.8l-10.2 5.9l-10.2 -5.9v-11.8z"/><path d="M1405.7 1007.7l10.2 5.9v11.8l-10.2 5.9l-10.2 -5.9v-11.8z"/><path d="M1412.1 1010.8l10.2 5.9v11.8l-10.2 5.9l-10.2 -5.9v-11.8z"/><path d="M1418.6 1008.2l10.2 5.9v11.8l-10.2 5.9l-10.2 -5.9v-11.8z"/><path d="M1425.1 1010.4l10.2 5.9v11.8l-10.2 5.9l-10.2 -5.9v-11.8z"/><path d="M1431.6 1011.4l10.2 5.9v11.8l-10.2 5.9l-10.2 -5.9v-11.8z"/><path d="M1438.1 1008.9l10.2 5.9v11.8l-10.2 5.9l-10.2 -5.9v-11.8z"/><path d="M1444.6 1011.2l10.2 5.9v11.8l-10.2 5.9l-10.2 -5.9v-11.8z"/><path d="M1451 1010.2l10.2 5.9v11.8l-10.2 5.9l-10.2 -5.9v-11.8z"/><path d="M1457.5 1013.7l10.2 5.9v11.8l-10.2 5.9l-10.2 -5.9v-11.8z"/><path d="M1464 1019.9l10.2 5.9v11.8l-10.2 5.9l-10.2 -5.9v-11.8z"/><path d="M1470.5 1014.2l10.2 5.9v11.8l-10.2 5.9l-10.2 -5.9v-11.8z"/><path d="M1477 1020.1l10.2 5.9v11.8l-10.2 5.9l-10.2 -5.9v-11.8z"/><path d="M1483.4 1014.6l10.2 5.9v11.8l-10.2 5.9l-10.2 -5.9v-11.8z"/><path d="M1489.9 1014.8l10.2 5.9v11.8l-10.2 5.9l-10.2 -5.9v-11.8z"/><path d="M1496.4 1019.7l10.2 5.9v11.8l-10.2 5.9l-10.2 -5.9v-11.8z"/><path d="M1502.9 1022.1l10.2 5.9v11.8l-10.2 5.9l-10.2 -5.9v-11.8z"/><path d="M1509.4 1023.8l10.2 5.9v11.8l-10.2 5.9l-10.2 -5.9v-11.8z"/><path d="M1515.9 1020.8l10.2 5.9v11.8l-10.2 5.9l-10.2 -5.9v-11.8z"/><path d="M1522.3 1024.1l10.2 5.9v11.8l-10.2 5.9l-10.2 -5.9v-11.8z"/><path d="M1528.8 1025.9l10.2 5.9v11.8l-10.2 5.9l-10.2 -5.9v-11.8z"/><path d="M1535.3 1025.4l10.2 5.9v11.8l-10.2 5.9l-10.2 -5.9v-11.8z"/><path d="M1541.8 1021.2l10.2 5.9v11.8l-10.2 5.9l-10.2 -5.9v-11.8z"/><path d="M1548.3 1024.6l10.2 5.9v11.8l-10.2 5.9l-10.2 -5.9v-11.8z"/><path d="M1554.8 1023.8l10.2 5.9v11.8l-10.2 5.9l-10.2 -5.9v-11.8z"/><path d="M1561.2 1023.5l10.2 5.9v11.8l-10.2 5.9l-10.2 -5.9v-11.8z"/><path d="M1567.7 1022.9l10.2 5.9v11.8l-10.2 5.9l-10.2 -5.9v-11.8z"/><path d="M1574.2 1022.6l10.2 5.9v11.8l-10.2 5.9l-10.2 -5.9v-11.8z"/><path d="M1580.7 1026.1l10.2 5.9v11.8l-10.2 5.9l-10.2 -5.9v-11.8z"/><path d="M1587.2 1025.5l10.2 5.9v11.8l-10.2 5.9l-10.2 -5.9v-11.8z"/><path d="M1593.7 1026.8l10.2 5.9v11.8l-10.2 5.9l-10.2 -5.9v-11.8z"/><path d="M1600.1 1027.1l10.2 5.9v11.8l-10.2 5.9l-10.2 -5.9v-11.8z"/><path d="M1606.6 1024.7l10.2 5.9v11.8l-10.2 5.9l-10.2 -5.9v-11.8z"/><path d="M1613.1 1029l10.2 5.9v11.8l-10.2 5.9l-10.2 -5.9v-11.8z"/><path d="M1619.6 1029.4l10.2 5.9v11.8l-10.2 5.9l-10.2 -5.9v-11.8z"/><path d="M1626.1 1032l10.2 5.9v11.8l-10.2 5.9l-10.2 -5.9v-11.8z"/><path d="M1632.5 1033.6l10.2 5.9v11.8l-10.2 5.9l-10.2 -5.9v-11.8z"/><path d="M1639 1032.9l10.2 5.9v11.8l-10.2 5.9l-10.2 -5.9v-11.8z"/><path d="M1645.5 1036.2l10.2 5.9v11.8l-10.2 5.9l-10.2 -5.9v-11.8z"/><path d="M1652 1036.1l10.2 5.9v11.8l-10.2 5.9l-10.2 -5.9v-11.8z"/><path d="M1658.5 1034.1l10.2 5.9v11.8l-10.2 5.9l-10.2 -5.9v-11.8z"/><path d="M1665 1034.2l10.2 5.9v11.8l-10.2 5.9l-10.2 -5.9v-11.8z"/><path d="M1671.4 1035.1l10.2 5.9v11.8l-10.2 5.9l-10.2 -5.9v-11.8z"/><path d="M1677.9 1037.6l10.2 5.9v11.8l-10.2 5.9l-10.2 -5.9v-11.8z"/><path d="M1684.4 1042.5l10.2 5.9v11.8l-10.2 5.9l-10.2 -5.9v-11.8z"/><path d="M1690.9 1039.2l10.2 5.9v11.8l-10.2 5.9l-10.2 -5.9v-11.8z"/><path d="M1697.4 1040l10.2 5.9v11.8l-10.2 5.9l-10.2 -5.9v-11.8z"/><path d="M1703.9 1039.6l10.2 5.9v11.8l-10.2 5.9l-10.2 -5.9v-11.8z"/><path d="M1710.3 1043.6l10.2 5.9v11.8l-10.2 5.9l-10.2 -5.9v-11.8z"/><path d="M1716.8 1037.9l10.2 5.9v11.8l-10.2 5.9l-10.2 -5.9v-11.8z"/><path d="M1723.3 1044.8l10.2 5.9v11.8l-10.2 5.9l-10.2 -5.9v-11.8z"/><path d="M1729.8 1040.9l10.2 5.9v11.8l-10.2 5.9l-10.2 -5.9v-11.8z"/><path d="M1736.3 1041.8l10.2 5.9v11.8l-10.2 5.9l-10.2 -5.9v-11.8z"/><path d="M1742.7 1043.1l10.2 5.9v11.8l-10.2 5.9l-10.2 -5.9v-11.8z"/><path d="M1749.2 1041.1l10.2 5.9v11.8l-10.2 5.9l-10.2 -5.9v-11.8z"/><path d="M1755.7 1043.5l10.2 5.9v11.8l-10.2 5.9l-10.2 -5.9v-11.8z"/><path d="M1762.2 1048.1l10.2 5.9v11.8l-10.2 5.9l-10.2 -5.9v-11.8z"/><path d="M1768.7 1047.1l10.2 5.9v11.8l-10.2 5.9l-10.2 -5.9v-11.8z"/><path d="M1775.2 1045.2l10.2 5.9v11.8l-10.2 5.9l-10.2 -5.9v-11.8z"/><path d="M1781.6 1043.1l10.2 5.9v11.8l-10.2 5.9l-10.2 -5.9v-11.8z"/><path d="M1788.1 1051.3l10.2 5.9v11.8l-10.2 5.9l-10.2 -5.9v-11.8z"/><path d="M1794.6 1049.8l10.2 5.9v11.8l-10.2 5.9l-10.2 -5.9v-11.8z"/><path d="M1801.1 1048.4l10.2 5.9v11.8l-10.2 5.9l-10.2 -5.9v-11.8z"/><path d="M1807.6 1052.4l10.2 5.9v11.8l-10.2 5.9l-10.2 -5.9v-11.8z"/></g>
<g fill="#e6e6e6" stroke="#4a4a4a" stroke-width="1.25"><circle cx="895" cy="420.9" r="11.6" fill="#fff" stroke="#262626" stroke-width="3.6"/><path d="M895 411.3l9 9.6l-9 9.6l-9 -9.6z" fill="#fff" stroke="#262626" stroke-width="1.6"/><path d="M896.1 498l8.8 9.4l-8.8 9.4l-8.8 -9.4z"/><path d="M904.9 552.1l8.8 9.4l-8.8 9.4l-8.8 -9.4z" fill="#fff"/><path d="M909.7 582.4l8.8 9.4l-8.8 9.4l-8.8 -9.4z"/><path d="M915.5 602.8l8.8 9.4l-8.8 9.4l-8.8 -9.4z"/><path d="M921.7 621.3l8.8 9.4l-8.8 9.4l-8.8 -9.4z"/><path d="M928.8 637.2l8.8 9.4l-8.8 9.4l-8.8 -9.4z"/><path d="M936.1 652.9l8.8 9.4l-8.8 9.4l-8.8 -9.4z"/><path d="M941 659.9l8.8 9.4l-8.8 9.4l-8.8 -9.4z"/><path d="M947.5 671l8.8 9.4l-8.8 9.4l-8.8 -9.4z"/><path d="M954 683.3l8.8 9.4l-8.8 9.4l-8.8 -9.4z"/><path d="M960.5 695.8l8.8 9.4l-8.8 9.4l-8.8 -9.4z"/><path d="M967 703.8l8.8 9.4l-8.8 9.4l-8.8 -9.4z"/><path d="M973.4 711.7l8.8 9.4l-8.8 9.4l-8.8 -9.4z"/><path d="M979.9 718.3l8.8 9.4l-8.8 9.4l-8.8 -9.4z"/><path d="M986.4 724.2l8.8 9.4l-8.8 9.4l-8.8 -9.4z"/><path d="M992.9 728.7l8.8 9.4l-8.8 9.4l-8.8 -9.4z"/><path d="M999.4 733.8l8.8 9.4l-8.8 9.4l-8.8 -9.4z"/><path d="M1005.9 739.4l8.8 9.4l-8.8 9.4l-8.8 -9.4z"/><path d="M1012.3 743.2l8.8 9.4l-8.8 9.4l-8.8 -9.4z"/><path d="M1018.8 748.6l8.8 9.4l-8.8 9.4l-8.8 -9.4z"/><path d="M1025.3 753.2l8.8 9.4l-8.8 9.4l-8.8 -9.4z"/><path d="M1031.8 758.9l8.8 9.4l-8.8 9.4l-8.8 -9.4z"/><path d="M1038.3 763.2l8.8 9.4l-8.8 9.4l-8.8 -9.4z"/><path d="M1044.7 766.9l8.8 9.4l-8.8 9.4l-8.8 -9.4z"/><path d="M1051.2 770.8l8.8 9.4l-8.8 9.4l-8.8 -9.4z"/><path d="M1057.7 772.3l8.8 9.4l-8.8 9.4l-8.8 -9.4z"/><path d="M1064.2 776.7l8.8 9.4l-8.8 9.4l-8.8 -9.4z"/><path d="M1070.7 779.9l8.8 9.4l-8.8 9.4l-8.8 -9.4z"/><path d="M1077.2 782.4l8.8 9.4l-8.8 9.4l-8.8 -9.4z"/><path d="M1083.6 784.4l8.8 9.4l-8.8 9.4l-8.8 -9.4z"/><path d="M1090.1 788.4l8.8 9.4l-8.8 9.4l-8.8 -9.4z"/><path d="M1096.6 792.3l8.8 9.4l-8.8 9.4l-8.8 -9.4z"/><path d="M1103.1 795l8.8 9.4l-8.8 9.4l-8.8 -9.4z"/><path d="M1109.6 796.9l8.8 9.4l-8.8 9.4l-8.8 -9.4z"/><path d="M1116.1 800.2l8.8 9.4l-8.8 9.4l-8.8 -9.4z"/><path d="M1122.5 803.3l8.8 9.4l-8.8 9.4l-8.8 -9.4z"/><path d="M1129 805.5l8.8 9.4l-8.8 9.4l-8.8 -9.4z"/><path d="M1135.5 807.3l8.8 9.4l-8.8 9.4l-8.8 -9.4z"/><path d="M1142 809l8.8 9.4l-8.8 9.4l-8.8 -9.4z"/><path d="M1148.5 813.7l8.8 9.4l-8.8 9.4l-8.8 -9.4z"/><path d="M1154.9 815.8l8.8 9.4l-8.8 9.4l-8.8 -9.4z"/><path d="M1161.4 818.4l8.8 9.4l-8.8 9.4l-8.8 -9.4z"/><path d="M1167.9 822l8.8 9.4l-8.8 9.4l-8.8 -9.4z"/><path d="M1174.4 823.3l8.8 9.4l-8.8 9.4l-8.8 -9.4z"/><path d="M1180.9 825.6l8.8 9.4l-8.8 9.4l-8.8 -9.4z"/><path d="M1187.4 826.3l8.8 9.4l-8.8 9.4l-8.8 -9.4z"/><path d="M1193.8 829.2l8.8 9.4l-8.8 9.4l-8.8 -9.4z"/><path d="M1200.3 832.2l8.8 9.4l-8.8 9.4l-8.8 -9.4z"/><path d="M1206.8 832.6l8.8 9.4l-8.8 9.4l-8.8 -9.4z"/><path d="M1213.3 835.1l8.8 9.4l-8.8 9.4l-8.8 -9.4z"/><path d="M1219.8 837.9l8.8 9.4l-8.8 9.4l-8.8 -9.4z"/><path d="M1226.3 838.9l8.8 9.4l-8.8 9.4l-8.8 -9.4z"/><path d="M1232.7 840.7l8.8 9.4l-8.8 9.4l-8.8 -9.4z"/><path d="M1239.2 842.6l8.8 9.4l-8.8 9.4l-8.8 -9.4z"/><path d="M1245.7 843.7l8.8 9.4l-8.8 9.4l-8.8 -9.4z"/><path d="M1252.2 847l8.8 9.4l-8.8 9.4l-8.8 -9.4z"/><path d="M1258.7 847.3l8.8 9.4l-8.8 9.4l-8.8 -9.4z"/><path d="M1265.2 848.1l8.8 9.4l-8.8 9.4l-8.8 -9.4z"/><path d="M1271.6 849.9l8.8 9.4l-8.8 9.4l-8.8 -9.4z"/><path d="M1278.1 851.3l8.8 9.4l-8.8 9.4l-8.8 -9.4z"/><path d="M1284.6 852.9l8.8 9.4l-8.8 9.4l-8.8 -9.4z"/><path d="M1291.1 854.3l8.8 9.4l-8.8 9.4l-8.8 -9.4z"/><path d="M1297.6 857.6l8.8 9.4l-8.8 9.4l-8.8 -9.4z"/><path d="M1304 857.8l8.8 9.4l-8.8 9.4l-8.8 -9.4z"/><path d="M1310.5 861.1l8.8 9.4l-8.8 9.4l-8.8 -9.4z"/><path d="M1317 861.6l8.8 9.4l-8.8 9.4l-8.8 -9.4z"/><path d="M1323.5 863.8l8.8 9.4l-8.8 9.4l-8.8 -9.4z"/><path d="M1330 863.1l8.8 9.4l-8.8 9.4l-8.8 -9.4z"/><path d="M1336.5 864.1l8.8 9.4l-8.8 9.4l-8.8 -9.4z"/><path d="M1342.9 866.2l8.8 9.4l-8.8 9.4l-8.8 -9.4z"/><path d="M1349.4 866l8.8 9.4l-8.8 9.4l-8.8 -9.4z"/><path d="M1355.9 868.6l8.8 9.4l-8.8 9.4l-8.8 -9.4z"/><path d="M1362.4 869l8.8 9.4l-8.8 9.4l-8.8 -9.4z"/><path d="M1368.9 870l8.8 9.4l-8.8 9.4l-8.8 -9.4z"/><path d="M1375.4 871.7l8.8 9.4l-8.8 9.4l-8.8 -9.4z"/><path d="M1381.8 871.7l8.8 9.4l-8.8 9.4l-8.8 -9.4z"/><path d="M1388.3 871.7l8.8 9.4l-8.8 9.4l-8.8 -9.4z"/><path d="M1394.8 874.7l8.8 9.4l-8.8 9.4l-8.8 -9.4z"/><path d="M1401.3 874.6l8.8 9.4l-8.8 9.4l-8.8 -9.4z"/><path d="M1407.8 876.5l8.8 9.4l-8.8 9.4l-8.8 -9.4z"/><path d="M1414.2 876.5l8.8 9.4l-8.8 9.4l-8.8 -9.4z"/><path d="M1420.7 878.8l8.8 9.4l-8.8 9.4l-8.8 -9.4z"/><path d="M1427.2 880.1l8.8 9.4l-8.8 9.4l-8.8 -9.4z"/><path d="M1433.7 881.7l8.8 9.4l-8.8 9.4l-8.8 -9.4z"/><path d="M1440.2 883.5l8.8 9.4l-8.8 9.4l-8.8 -9.4z"/><path d="M1446.7 886.2l8.8 9.4l-8.8 9.4l-8.8 -9.4z"/><path d="M1453.1 885.9l8.8 9.4l-8.8 9.4l-8.8 -9.4z"/><path d="M1459.6 889.3l8.8 9.4l-8.8 9.4l-8.8 -9.4z"/><path d="M1466.1 889.8l8.8 9.4l-8.8 9.4l-8.8 -9.4z"/><path d="M1472.6 891l8.8 9.4l-8.8 9.4l-8.8 -9.4z"/><path d="M1479.1 893.4l8.8 9.4l-8.8 9.4l-8.8 -9.4z"/><path d="M1485.6 894l8.8 9.4l-8.8 9.4l-8.8 -9.4z"/><path d="M1492 894.5l8.8 9.4l-8.8 9.4l-8.8 -9.4z"/><path d="M1498.5 896.3l8.8 9.4l-8.8 9.4l-8.8 -9.4z"/><path d="M1505 897.9l8.8 9.4l-8.8 9.4l-8.8 -9.4z"/><path d="M1511.5 900.2l8.8 9.4l-8.8 9.4l-8.8 -9.4z"/><path d="M1518 899.8l8.8 9.4l-8.8 9.4l-8.8 -9.4z"/><path d="M1524.5 900.5l8.8 9.4l-8.8 9.4l-8.8 -9.4z"/><path d="M1530.9 901.3l8.8 9.4l-8.8 9.4l-8.8 -9.4z"/><path d="M1537.4 902.4l8.8 9.4l-8.8 9.4l-8.8 -9.4z"/><path d="M1543.9 902.2l8.8 9.4l-8.8 9.4l-8.8 -9.4z"/><path d="M1550.4 903.6l8.8 9.4l-8.8 9.4l-8.8 -9.4z"/><path d="M1556.9 904l8.8 9.4l-8.8 9.4l-8.8 -9.4z"/><path d="M1563.3 904.1l8.8 9.4l-8.8 9.4l-8.8 -9.4z"/><path d="M1569.8 905.8l8.8 9.4l-8.8 9.4l-8.8 -9.4z"/><path d="M1576.3 906l8.8 9.4l-8.8 9.4l-8.8 -9.4z"/><path d="M1582.8 904.9l8.8 9.4l-8.8 9.4l-8.8 -9.4z"/><path d="M1589.3 906.2l8.8 9.4l-8.8 9.4l-8.8 -9.4z"/><path d="M1595.8 908.1l8.8 9.4l-8.8 9.4l-8.8 -9.4z"/><path d="M1602.2 907.8l8.8 9.4l-8.8 9.4l-8.8 -9.4z"/><path d="M1608.7 907.8l8.8 9.4l-8.8 9.4l-8.8 -9.4z"/><path d="M1615.2 907.8l8.8 9.4l-8.8 9.4l-8.8 -9.4z"/><path d="M1621.7 909l8.8 9.4l-8.8 9.4l-8.8 -9.4z"/><path d="M1628.2 910l8.8 9.4l-8.8 9.4l-8.8 -9.4z"/><path d="M1634.7 910.8l8.8 9.4l-8.8 9.4l-8.8 -9.4z"/><path d="M1641.1 910.5l8.8 9.4l-8.8 9.4l-8.8 -9.4z"/><path d="M1647.6 911.5l8.8 9.4l-8.8 9.4l-8.8 -9.4z"/><path d="M1654.1 912.8l8.8 9.4l-8.8 9.4l-8.8 -9.4z"/><path d="M1660.6 913.4l8.8 9.4l-8.8 9.4l-8.8 -9.4z"/><path d="M1667.1 914.3l8.8 9.4l-8.8 9.4l-8.8 -9.4z"/><path d="M1673.5 914.4l8.8 9.4l-8.8 9.4l-8.8 -9.4z"/><path d="M1680 916.2l8.8 9.4l-8.8 9.4l-8.8 -9.4z"/><path d="M1686.5 916.2l8.8 9.4l-8.8 9.4l-8.8 -9.4z"/><path d="M1693 916.7l8.8 9.4l-8.8 9.4l-8.8 -9.4z"/><path d="M1699.5 917.7l8.8 9.4l-8.8 9.4l-8.8 -9.4z"/><path d="M1706 919.3l8.8 9.4l-8.8 9.4l-8.8 -9.4z"/><path d="M1712.4 918.4l8.8 9.4l-8.8 9.4l-8.8 -9.4z"/><path d="M1718.9 920.4l8.8 9.4l-8.8 9.4l-8.8 -9.4z"/><path d="M1725.4 920.2l8.8 9.4l-8.8 9.4l-8.8 -9.4z"/><path d="M1731.9 921.5l8.8 9.4l-8.8 9.4l-8.8 -9.4z"/><path d="M1738.4 922.7l8.8 9.4l-8.8 9.4l-8.8 -9.4z"/><path d="M1744.9 921.9l8.8 9.4l-8.8 9.4l-8.8 -9.4z"/><path d="M1751.3 922.4l8.8 9.4l-8.8 9.4l-8.8 -9.4z"/><path d="M1757.8 923.1l8.8 9.4l-8.8 9.4l-8.8 -9.4z"/><path d="M1764.3 923.3l8.8 9.4l-8.8 9.4l-8.8 -9.4z"/><path d="M1770.8 924.4l8.8 9.4l-8.8 9.4l-8.8 -9.4z"/><path d="M1777.3 924.9l8.8 9.4l-8.8 9.4l-8.8 -9.4z"/><path d="M1783.8 924.9l8.8 9.4l-8.8 9.4l-8.8 -9.4z"/><path d="M1790.2 923.9l8.8 9.4l-8.8 9.4l-8.8 -9.4z"/><path d="M1796.7 925l8.8 9.4l-8.8 9.4l-8.8 -9.4z"/><path d="M1803.2 925.9l8.8 9.4l-8.8 9.4l-8.8 -9.4z"/></g>
<rect x="855" y="380.2" width="987.7" height="721.1" fill="none" stroke="#262626" stroke-width="3"/>
<path d="M895 380.2v13M895 1101.3v-13M1017.5 380.2v7M1017.5 1101.3v-7M1139.9 380.2v13M1139.9 1101.3v-13M1262.3 380.2v7M1262.3 1101.3v-7M1384.8 380.2v13M1384.8 1101.3v-13M1507.2 380.2v7M1507.2 1101.3v-7M1629.7 380.2v13M1629.7 1101.3v-13M1752.2 380.2v7M1752.2 1101.3v-7M855 1094.8h14M1842.7 1094.8h-14M855 1010.6h8M1842.7 1010.6h-8M855 926.3h14M1842.7 926.3h-14M855 842.1h8M1842.7 842.1h-8M855 757.9h14M1842.7 757.9h-14M855 673.6h8M1842.7 673.6h-8M855 589.4h14M1842.7 589.4h-14M855 505.1h8M1842.7 505.1h-8M855 420.9h14M1842.7 420.9h-14" stroke="#262626" stroke-width="2.6" fill="none"/>
<text x="841.7" y="1110" text-anchor="end" class="s" font-size="48" textLength="67" lengthAdjust="spacingAndGlyphs">0.2</text>
<text x="841.7" y="941.5" text-anchor="end" class="s" font-size="48" textLength="67" lengthAdjust="spacingAndGlyphs">0.4</text>
<text x="841.7" y="773.1" text-anchor="end" class="s" font-size="48" textLength="67" lengthAdjust="spacingAndGlyphs">0.6</text>
<text x="841.7" y="604.6" text-anchor="end" class="s" font-size="48" textLength="67" lengthAdjust="spacingAndGlyphs">0.8</text>
<text x="841.7" y="436.1" text-anchor="end" class="s" font-size="48" textLength="67" lengthAdjust="spacingAndGlyphs">1.0</text>
<text x="895" y="1152.3" text-anchor="middle" class="s" font-size="48.5" textLength="27.5" lengthAdjust="spacingAndGlyphs">0</text>
<text x="1139.9" y="1152.3" text-anchor="middle" class="s" font-size="48.5" textLength="55" lengthAdjust="spacingAndGlyphs">10</text>
<text x="1384.8" y="1152.3" text-anchor="middle" class="s" font-size="48.5" textLength="55" lengthAdjust="spacingAndGlyphs">20</text>
<text x="1629.7" y="1152.3" text-anchor="middle" class="s" font-size="48.5" textLength="55" lengthAdjust="spacingAndGlyphs">30</text>
<text x="1346.6" y="1229.3" text-anchor="middle" class="s" font-size="47" textLength="254" lengthAdjust="spacingAndGlyphs">Время, сек.</text>
<g transform="translate(737.4 912.7) rotate(-90)"><text x="0" y="0" class="s" font-size="55" textLength="273" lengthAdjust="spacingAndGlyphs">I/I<tspan font-size="33" dy="18">0</tspan><tspan dy="-18">, отн. ед.</tspan></text></g>
<rect x="1444" y="395.2" width="363.3" height="349.3" fill="#fff" stroke="#262626" stroke-width="1.8"/>
<text x="1469.5" y="477.7" class="s" font-size="50.5" textLength="287" lengthAdjust="spacingAndGlyphs">200 ppb NH<tspan font-size="34" dy="11">3</tspan></text>
<circle cx="1501.5" cy="518.5" r="12.4" fill="#fff" stroke="#262626" stroke-width="2.2"/>
<text x="1545" y="527.5" class="s" font-size="34" textLength="133" lengthAdjust="spacingAndGlyphs">TiO-TPP</text>
<rect x="1491.2" y="550.4" width="20.6" height="19.6" fill="#262626"/>
<text x="1545" y="568.9" class="s" font-size="34" textLength="113" lengthAdjust="spacingAndGlyphs">H<tspan font-size="22" dy="9">2</tspan><tspan dy="-9">-TPP</tspan></text>
<path d="M1501.5 599l11.2 17.6h-22.4z" fill="#262626"/>
<text x="1545" y="618.5" class="s" font-size="34" textLength="122" lengthAdjust="spacingAndGlyphs">Co-TPP</text>
<path d="M1501.5 639.6l10.2 5.9v11.8l-10.2 5.9l-10.2 -5.9v-11.8z" fill="#fff" stroke="#262626" stroke-width="2"/>
<text x="1545" y="659.9" class="s" font-size="34" textLength="119" lengthAdjust="spacingAndGlyphs">Zn-TPP</text>
<path d="M1501.5 681.2l10.5 10.5l-10.5 10.5l-10.5 -10.5z" fill="#fff" stroke="#262626" stroke-width="1.3"/>
<text x="1545" y="700.2" class="s" font-size="34" textLength="237" lengthAdjust="spacingAndGlyphs">без рецептора</text>
</g>
<g id="chart2">
<line x1="910.9" y1="1816.4" x2="910.9" y2="2537.4" class="g2" stroke="#5e5e5e"/>
<line x1="1030.4" y1="1816.4" x2="1030.4" y2="2537.4" class="g2" stroke="#bdbdbd"/>
<line x1="1149.9" y1="1816.4" x2="1149.9" y2="2537.4" class="g2" stroke="#8c8c8c"/>
<line x1="1269.3" y1="1816.4" x2="1269.3" y2="2537.4" class="g2" stroke="#8c8c8c"/>
<line x1="1388.8" y1="1816.4" x2="1388.8" y2="2537.4" class="g2" stroke="#8c8c8c"/>
<line x1="1508.3" y1="1816.4" x2="1508.3" y2="2537.4" class="g2" stroke="#bdbdbd"/>
<line x1="1627.7" y1="1816.4" x2="1627.7" y2="2537.4" class="g2" stroke="#5e5e5e"/>
<line x1="851.2" y1="2468.7" x2="1747.2" y2="2468.7" class="g2" stroke="#dadada"/>
<line x1="851.2" y1="2400.1" x2="1747.2" y2="2400.1" class="g2" stroke="#dadada"/>
<line x1="851.2" y1="2331.4" x2="1747.2" y2="2331.4" class="g2" stroke="#8c8c8c"/>
<line x1="851.2" y1="2262.7" x2="1747.2" y2="2262.7" class="g2" stroke="#5e5e5e"/>
<line x1="851.2" y1="2194.1" x2="1747.2" y2="2194.1" class="g2" stroke="#8c8c8c"/>
<line x1="851.2" y1="2125.4" x2="1747.2" y2="2125.4" class="g2" stroke="#8c8c8c"/>
<line x1="851.2" y1="2056.7" x2="1747.2" y2="2056.7" class="g2" stroke="#8c8c8c"/>
<line x1="851.2" y1="1988.1" x2="1747.2" y2="1988.1" class="g2" stroke="#bdbdbd"/>
<line x1="851.2" y1="1919.4" x2="1747.2" y2="1919.4" class="g2" stroke="#5e5e5e"/>
<line x1="851.2" y1="1850.7" x2="1747.2" y2="1850.7" class="g2" stroke="#5e5e5e"/>
<rect x="851.2" y="1816.4" width="896" height="721" fill="none" stroke="#262626" stroke-width="2.8"/>
<path d="M851.2 1816.4v-8M851.2 2537.4v8M910.9 1816.4v-15M910.9 2537.4v15M970.7 1816.4v-8M970.7 2537.4v8M1030.4 1816.4v-15M1030.4 2537.4v15M1090.1 1816.4v-8M1090.1 2537.4v8M1149.9 1816.4v-15M1149.9 2537.4v15M1209.6 1816.4v-8M1209.6 2537.4v8M1269.3 1816.4v-15M1269.3 2537.4v15M1329.1 1816.4v-8M1329.1 2537.4v8M1388.8 1816.4v-15M1388.8 2537.4v15M1448.5 1816.4v-8M1448.5 2537.4v8M1508.3 1816.4v-15M1508.3 2537.4v15M1568 1816.4v-8M1568 2537.4v8M1627.7 1816.4v-15M1627.7 2537.4v15M1687.5 1816.4v-8M1687.5 2537.4v8M1747.2 1816.4v-15M1747.2 2537.4v15M851.2 2537.4h-14.5M1747.2 2537.4h14.5M851.2 2503.1h-8M1747.2 2503.1h8M851.2 2468.7h-14.5M1747.2 2468.7h14.5M851.2 2434.4h-8M1747.2 2434.4h8M851.2 2400.1h-14.5M1747.2 2400.1h14.5M851.2 2365.7h-8M1747.2 2365.7h8M851.2 2331.4h-14.5M1747.2 2331.4h14.5M851.2 2297.1h-8M1747.2 2297.1h8M851.2 2262.7h-14.5M1747.2 2262.7h14.5M851.2 2228.4h-8M1747.2 2228.4h8M851.2 2194.1h-14.5M1747.2 2194.1h14.5M851.2 2159.7h-8M1747.2 2159.7h8M851.2 2125.4h-14.5M1747.2 2125.4h14.5M851.2 2091.1h-8M1747.2 2091.1h8M851.2 2056.7h-14.5M1747.2 2056.7h14.5M851.2 2022.4h-8M1747.2 2022.4h8M851.2 1988.1h-14.5M1747.2 1988.1h14.5M851.2 1953.7h-8M1747.2 1953.7h8M851.2 1919.4h-14.5M1747.2 1919.4h14.5M851.2 1885.1h-8M1747.2 1885.1h8M851.2 1850.7h-14.5M1747.2 1850.7h14.5M851.2 1816.4h-8M1747.2 1816.4h8" stroke="#262626" stroke-width="2.6" fill="none"/>
<text x="910.3" y="1784.1" text-anchor="middle" class="s" font-size="38.2">-15</text>
<text x="910.1" y="2591" text-anchor="middle" class="s" font-size="38.2">-15</text>
<text x="1029.8" y="1784.1" text-anchor="middle" class="s" font-size="38.2">-10</text>
<text x="1029.6" y="2591" text-anchor="middle" class="s" font-size="38.2">-10</text>
<text x="1149.3" y="1784.1" text-anchor="middle" class="s" font-size="38.2">-5</text>
<text x="1149.1" y="2591" text-anchor="middle" class="s" font-size="38.2">-5</text>
<text x="1268.7" y="1784.1" text-anchor="middle" class="s" font-size="38.2">0</text>
<text x="1268.5" y="2591" text-anchor="middle" class="s" font-size="38.2">0</text>
<text x="1388.2" y="1784.1" text-anchor="middle" class="s" font-size="38.2">5</text>
<text x="1388" y="2591" text-anchor="middle" class="s" font-size="38.2">5</text>
<text x="1507.7" y="1784.1" text-anchor="middle" class="s" font-size="38.2">10</text>
<text x="1507.5" y="2591" text-anchor="middle" class="s" font-size="38.2">10</text>
<text x="1627.1" y="1784.1" text-anchor="middle" class="s" font-size="38.2">15</text>
<text x="1626.9" y="2591" text-anchor="middle" class="s" font-size="38.2">15</text>
<text x="1746.6" y="1784.1" text-anchor="middle" class="s" font-size="38.2">20</text>
<text x="1746.4" y="2591" text-anchor="middle" class="s" font-size="38.2">20</text>
<text x="828.6" y="2549.6" text-anchor="end" class="s" font-size="38.2">-10</text>
<text x="828.6" y="2480.9" text-anchor="end" class="s" font-size="38.2">-8</text>
<text x="828.6" y="2412.3" text-anchor="end" class="s" font-size="38.2">-6</text>
<text x="828.6" y="2343.6" text-anchor="end" class="s" font-size="38.2">-4</text>
<text x="828.6" y="2274.9" text-anchor="end" class="s" font-size="38.2">-2</text>
<text x="828.6" y="2206.3" text-anchor="end" class="s" font-size="38.2">0</text>
<text x="828.6" y="2137.6" text-anchor="end" class="s" font-size="38.2">2</text>
<text x="828.6" y="2068.9" text-anchor="end" class="s" font-size="38.2">4</text>
<text x="828.6" y="2000.3" text-anchor="end" class="s" font-size="38.2">6</text>
<text x="828.6" y="1931.6" text-anchor="end" class="s" font-size="38.2">8</text>
<text x="828.6" y="1862.9" text-anchor="end" class="s" font-size="38.2">10</text>
<text x="1295.7" y="2657.4" text-anchor="middle" class="s" font-size="44.5" textLength="557" lengthAdjust="spacingAndGlyphs">Линейная дискриминанта 1</text>
<g transform="translate(747.4 2466.4) rotate(-90)"><text x="0" y="0" class="s" font-size="44.5" textLength="549" lengthAdjust="spacingAndGlyphs">Линейная дискриминанта 2</text></g>
<circle cx="968.2" cy="1911.5" r="73.5" fill="none" stroke="#262626" stroke-width="3.2" stroke-linecap="round" stroke-dasharray="14.21 21.31" stroke-dashoffset="20.60"/>
<circle cx="1132.3" cy="2444.3" r="76" fill="none" stroke="#262626" stroke-width="3.2" stroke-linecap="round" stroke-dasharray="13.64 20.47" stroke-dashoffset="25.60"/>
<circle cx="1303.9" cy="2394.3" r="76" fill="none" stroke="#262626" stroke-width="3.2" stroke-linecap="round" stroke-dasharray="13.64 20.47" stroke-dashoffset="26.00"/>
<circle cx="1640.2" cy="2021.1" r="89" fill="none" stroke="#262626" stroke-width="3.2" stroke-linecap="round" stroke-dasharray="13.98 20.97" stroke-dashoffset="26.10"/>
<rect x="940" y="1870.3" width="17.4" height="17.4" fill="#262626"/>
<rect x="967.6" y="1869.2" width="17.4" height="17.4" fill="#262626"/>
<rect x="958.8" y="1930.7" width="17.4" height="17.4" fill="#262626"/>
<rect x="982.2" y="1930.4" width="17.4" height="17.4" fill="#262626"/>
<circle cx="1115.5" cy="2402.1" r="11.6" fill="#262626"/>
<circle cx="1114.1" cy="2443.1" r="11.6" fill="#262626"/>
<circle cx="1120" cy="2463.8" r="11.6" fill="#262626"/>
<circle cx="1161.5" cy="2485.7" r="11.6" fill="#262626"/>
<path d="M1336.2 2352.3l14 23.6h-28z" fill="#262626"/>
<path d="M1325.3 2388.4l14 23.6h-28z" fill="#262626"/>
<path d="M1268.6 2399.6l14 23.6h-28z" fill="#262626"/>
<path d="M1323.9 2416.1l14 23.6h-28z" fill="#262626"/>
<polygon points="1676.7,1958.3 1692.9,1970 1686.7,1989 1666.7,1989 1660.5,1970" fill="#262626"/>
<polygon points="1672.9,2007.2 1689.1,2019 1682.9,2038 1663,2038 1656.8,2019" fill="#262626"/>
<polygon points="1626.9,2046.8 1643,2058.5 1636.9,2077.5 1616.9,2077.5 1610.7,2058.5" fill="#262626"/>
<polygon points="1663.3,2047.1 1679.4,2058.9 1673.3,2077.9 1653.3,2077.9 1647.1,2058.9" fill="#262626"/>
<rect x="1192" y="1830.6" width="276.3" height="277.5" fill="#fff" stroke="#262626" stroke-width="2"/>
<rect x="1250.6" y="1860.9" width="17.4" height="17.4" fill="#262626"/>
<circle cx="1259.1" cy="1936.3" r="11.8" fill="#262626"/>
<path d="M1259 1988.1l13.6 23h-27.2z" fill="#262626"/>
<polygon points="1258.6,2053.1 1274.8,2064.8 1268.6,2083.9 1248.6,2083.9 1242.4,2064.8" fill="#262626"/>
<text x="1334.2" y="1888" class="s" font-size="53.6">NH3</text>
<text x="1334.2" y="1955" class="s" font-size="53.6">H2S</text>
<text x="1334.2" y="2021" class="s" font-size="53.6">EtSH</text>
<text x="1334.2" y="2088" class="s" font-size="53.6">NO2</text>
</g>
</g>
<g id="specks" fill="#a9a9a9"><circle cx="1875.5" cy="1696.9" r="2.4"/><circle cx="1885" cy="2608.5" r="2.4"/></g>
</svg>
</body>
</html>
